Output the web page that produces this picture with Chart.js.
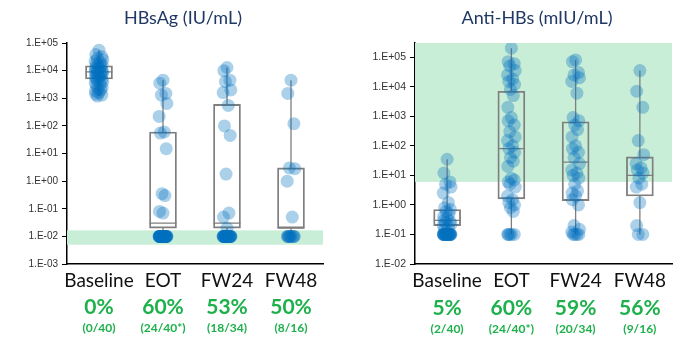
<!DOCTYPE html>
<html>
<head>
<meta charset="utf-8">
<script src="https://cdn.jsdelivr.net/npm/chart.js@4.4.1/dist/chart.umd.min.js"></script>
<style>
  html, body { margin: 0; padding: 0; background: #fff; }
  #wrap { position: relative; width: 680px; height: 340px; }
  .panel { position: absolute; top: 0; width: 340px; height: 340px; }
  #p1 { left: 0; }
  #p2 { left: 340px; }
</style>
</head>
<body>
<div id="wrap">
  <div class="panel" id="p1"><canvas id="c1"></canvas></div>
  <div class="panel" id="p2"><canvas id="c2"></canvas></div>
</div>
<script>
// Visits shown on both panels
const visits = ['Baseline', 'EOT', 'FW24', 'FW48'];

// ---- HBsAg (IU/mL), individual patient values per visit ----
const hbsagBaseline = [55000, 38000, 32000, 28000, 25000, 22000, 20000, 18000, 16000, 15000,
  14000, 13000, 12000, 11000, 10000, 9500, 9000, 8800, 8500, 8000,
  7500, 7000, 6500, 6000, 5500, 5000, 4800, 4500, 4000, 3600,
  3200, 2800, 2500, 2200, 2000, 1800, 1600, 1400, 1300, 1200];
const hbsagEOT = [4500, 3500, 1500, 1300, 650, 220, 60, 55, 15, 0.35, 0.3, 0.08, 0.07,
  0.01, 0.01, 0.01, 0.01, 0.01, 0.01, 0.01, 0.01, 0.01, 0.01, 0.01, 0.01, 0.01, 0.01,
  0.01, 0.01, 0.01, 0.01, 0.01, 0.01, 0.01, 0.01, 0.01, 0.01, 0.01, 0.01, 0.01];
const hbsagFW24 = [13000, 10000, 4500, 4000, 2000, 1600, 550, 100, 45, 1.8, 0.07, 0.05, 0.02,
  0.01, 0.01, 0.01, 0.01, 0.01, 0.01, 0.01, 0.01, 0.01, 0.01, 0.01,
  0.01, 0.01, 0.01, 0.01, 0.01, 0.01, 0.01, 0.01, 0.01, 0.01];
const hbsagFW48 = [4500, 1500, 120, 3, 2.8, 1, 0.05,
  0.01, 0.01, 0.01, 0.01, 0.01, 0.01, 0.01, 0.01, 0.01];

// HBsAg box summary per visit
const hbsagQ1     = [5000, 0.02, 0.02, 0.02];
const hbsagMedian = [9000, 0.03, 0.03, 0.02];
const hbsagQ3     = [15000, 60, 600, 3];
const hbsagMin    = [1200, 0.01, 0.01, 0.01];
const hbsagMax    = [55000, 4500, 13000, 4500];

// HBsAg loss rate per visit
const hbsagPct  = ['0%', '60%', '53%', '50%'];
const hbsagFrac = ['(0/40)', '(24/40*)', '(18/34)', '(8/16)'];
const hbsagBand = [0.005, 0.0165];

// ---- Anti-HBs (mIU/mL), individual patient values per visit ----
const antiBaseline = [35, 12, 6, 5, 4, 2.5, 1.2, 0.8, 0.7, 0.6,
  0.5, 0.4, 0.35, 0.3, 0.28, 0.25, 0.22, 0.2, 0.18, 0.15,
  0.1, 0.1, 0.1, 0.1, 0.1, 0.1, 0.1, 0.1, 0.1, 0.1,
  0.1, 0.1, 0.1, 0.1, 0.1, 0.1, 0.1, 0.1, 0.1, 0.1];
const antiEOT = [200000, 70000, 60000, 50000, 35000, 25000, 18000, 15000, 12000, 8000,
  5000, 2000, 900, 700, 500, 300, 200, 150, 100, 80,
  60, 40, 30, 20, 8, 6, 7, 5, 4, 2,
  1.5, 1.2, 1, 0.8, 0.6, 0.1, 0.1, 0.1, 0.1, 0.1];
const antiFW24 = [80000, 70000, 30000, 25000, 20000, 15000, 6000, 900, 700, 500,
  350, 200, 100, 80, 60, 40, 25, 15, 12, 10,
  8, 5, 3, 2.5, 2, 1.5, 1, 0.2, 0.15, 0.12,
  0.1, 0.1, 0.1, 0.1];
const antiFW48 = [35000, 7000, 2000, 150, 50, 25, 18, 15, 12, 8, 5, 4, 1.2, 0.2, 0.1, 0.1];

// Anti-HBs box summary per visit
const antiQ1     = [0.2, 1.6, 1.4, 2];
const antiMedian = [0.3, 80, 28, 10];
const antiQ3     = [0.7, 7000, 650, 42];
const antiMin    = [0.1, 0.1, 0.1, 0.1];
const antiMax    = [35, 200000, 80000, 35000];

// Anti-HBs seroconversion rate per visit
const antiPct  = ['5%', '60%', '59%', '56%'];
const antiFrac = ['(2/40)', '(24/40*)', '(20/34)', '(9/16)'];
const antiBand = [6, 300000];

// Small repeating horizontal spread so overlapping dots stay visible
const SPREAD = [0, -0.05, 0.045, -0.025, 0.06, -0.06, 0.02, -0.04, 0.05, -0.015, 0.03, -0.055];
const BOX_HALF = 0.21;
const GREEN = '#1db04b';

function expLabel(v) {
  const e = Math.round(Math.log10(v));
  return '1.E' + (e < 0 ? '-' : '+') + String(Math.abs(e)).padStart(2, '0');
}

function buildPanel(canvasId, p) {
  const groups = p.groups;
  const points = [];
  groups.forEach((vals, gi) => {
    vals.forEach((v, k) => points.push({ x: gi + 1 + SPREAD[k % SPREAD.length], y: v }));
  });
  const boxes = visits.map((_, i) => ({ x: i + 1, y: [p.q1[i], p.q3[i]] }));
  const whiskers = [];
  const medians = [];
  visits.forEach((_, i) => {
    whiskers.push({ x: i + 1, y: p.min[i] }, { x: i + 1, y: p.q1[i] }, { x: i + 1, y: null });
    whiskers.push({ x: i + 1, y: p.q3[i] }, { x: i + 1, y: p.max[i] }, { x: i + 1, y: null });
    medians.push({ x: i + 1 - BOX_HALF, y: p.median[i] }, { x: i + 1 + BOX_HALF, y: p.median[i] }, { x: i + 1, y: null });
  });

  const bandPlugin = {
    id: 'band',
    beforeDatasetsDraw(chart) {
      const { ctx, chartArea, scales } = chart;
      const yTop = scales.y.getPixelForValue(p.band[1]);
      const yBot = scales.y.getPixelForValue(p.band[0]);
      ctx.save();
      ctx.fillStyle = '#c9eed8';
      ctx.fillRect(chartArea.left, yTop, chartArea.right - chartArea.left, yBot - yTop);
      ctx.restore();
    }
  };

  const textPlugin = {
    id: 'texts',
    afterDraw(chart) {
      const { ctx, scales } = chart;
      ctx.save();
      ctx.textAlign = 'center';
      ctx.textBaseline = 'middle';
      ctx.fillStyle = '#1f3864';
      ctx.font = '18px Lato';
      ctx.fillText(p.title, p.titleX, 18);
      visits.forEach((name, i) => {
        const x = scales.x.getPixelForValue(i + 1);
        ctx.fillStyle = '#111';
        ctx.font = '19px Lato';
        ctx.fillText(name, x, p.catY);
        ctx.fillStyle = GREEN;
        ctx.font = 'bold 21px Lato';
        ctx.fillText(p.pct[i], x, p.pctY);
        ctx.font = 'bold 12px Lato';
        ctx.fillText(p.frac[i], x, p.fracY);
      });
      ctx.restore();
    }
  };

  return new Chart(document.getElementById(canvasId), {
    type: 'scatter',
    data: {
      datasets: [
        { type: 'line', data: whiskers, borderColor: '#7f7f7f', borderWidth: 1.3,
          pointRadius: 0, spanGaps: false, order: 4 },
        { type: 'bar', data: boxes, backgroundColor: 'rgba(0,0,0,0)', borderColor: '#7f7f7f',
          borderWidth: 1.2, borderSkipped: false, barThickness: 27, order: 3 },
        { type: 'line', data: medians, borderColor: '#7f7f7f', borderWidth: 1.2,
          pointRadius: 0, spanGaps: false, order: 2 },
        { type: 'scatter', data: points, backgroundColor: 'rgba(0,112,192,0.33)',
          borderWidth: 0, pointRadius: 6.5, pointHoverRadius: 6.5, order: 0 }
      ]
    },
    options: {
      responsive: false,
      animation: false,
      layout: { padding: { top: 43, bottom: 76, left: 0, right: p.padRight } },
      plugins: { legend: { display: false }, tooltip: { enabled: false }, title: { display: false } },
      scales: {
        x: {
          type: 'linear', min: 0.5, max: 4.5, offset: false,
          ticks: { display: false },
          grid: { display: false, offset: false },
          border: { display: true, color: '#000', width: 1.5 },
          afterFit(s) { s.height = 0; }
        },
        y: {
          type: 'logarithmic', min: p.yMin, max: p.yMax,
          afterBuildTicks(s) {
            const t = [];
            for (let e = Math.round(Math.log10(p.yMin)); Math.pow(10, e) <= p.yMax * 1.0001; e++) {
              t.push({ value: Math.pow(10, e) });
            }
            s.ticks = t;
          },
          afterFit(s) { s.width = p.axisW; },
          ticks: {
            callback: (v) => expLabel(v),
            color: '#333',
            font: { family: 'Liberation Sans', size: p.tickSize },
            padding: 4
          },
          grid: { display: true, drawOnChartArea: false, drawTicks: true, tickLength: 5, color: '#000' },
          border: { display: true, color: '#000', width: 1.5 }
        }
      }
    },
    plugins: [bandPlugin, textPlugin]
  });
}

document.getElementById('c1').width = 340; document.getElementById('c1').height = 340;
document.getElementById('c2').width = 340; document.getElementById('c2').height = 340;

buildPanel('c1', {
  title: 'HBsAg (IU/mL)', titleX: 183,
  groups: [hbsagBaseline, hbsagEOT, hbsagFW24, hbsagFW48],
  q1: hbsagQ1, median: hbsagMedian, q3: hbsagQ3, min: hbsagMin, max: hbsagMax,
  pct: hbsagPct, frac: hbsagFrac, band: hbsagBand,
  yMin: 1e-3, yMax: 1e5, axisW: 67, padRight: 17, tickSize: 10,
  catY: 281, pctY: 307, fracY: 328
});

buildPanel('c2', {
  title: 'Anti-HBs (mIU/mL)', titleX: 197,
  groups: [antiBaseline, antiEOT, antiFW24, antiFW48],
  q1: antiQ1, median: antiMedian, q3: antiQ3, min: antiMin, max: antiMax,
  pct: antiPct, frac: antiFrac, band: antiBand,
  yMin: 1e-2, yMax: 3e5, axisW: 75, padRight: 8, tickSize: 10.5,
  catY: 281, pctY: 308, fracY: 329
});
</script>
</body>
</html>
